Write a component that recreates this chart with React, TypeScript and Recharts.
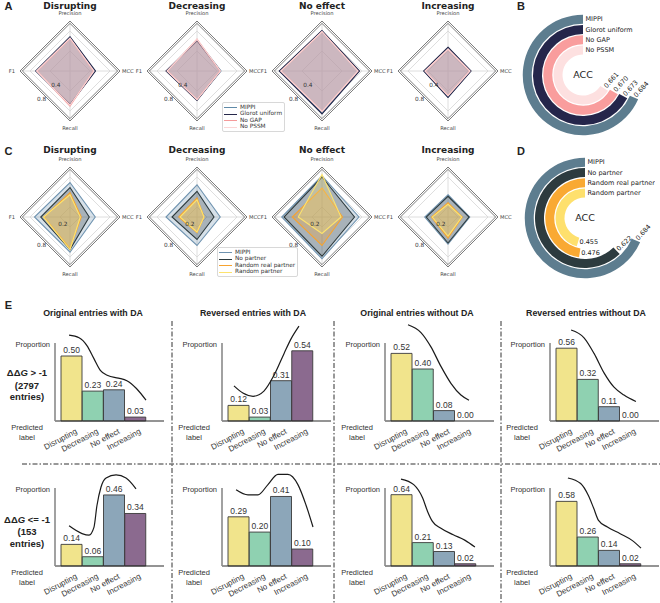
import React from "react";
import {
  RadarChart,
  Radar,
  PolarGrid,
  PolarAngleAxis,
  PolarRadiusAxis,
  RadialBarChart,
  RadialBar,
  LabelList,
  Cell,
  ComposedChart,
  Bar,
  XAxis,
  YAxis,
  LineChart,
  Line,
} from "recharts";

const ARIAL = "'Liberation Sans', Arial, sans-serif";
const DEJAVU = "'DejaVu Sans', sans-serif";

const classes = ["Disrupting", "Decreasing", "No effect", "Increasing"];
const radarAxes = ["Precision", "MCC", "Recall", "F1"];

// Panel A / B: ablation (rows: MIPPI, Glorot uniform, No GAP, No PSSM; cols follow radarAxes)
const ablationNames = ["MIPPI", "Glorot uniform", "No GAP", "No PSSM"];
const ablationDisrupting = [
  [0.68, 0.5, 0.67, 0.68],
  [0.685, 0.51, 0.67, 0.685],
  [0.65, 0.47, 0.7, 0.66],
  [0.66, 0.48, 0.685, 0.67],
];
const ablationDecreasing = [
  [0.62, 0.48, 0.58, 0.605],
  [0.605, 0.47, 0.59, 0.62],
  [0.64, 0.46, 0.57, 0.59],
  [0.635, 0.47, 0.575, 0.6],
];
const ablationNoEffect = [
  [0.8, 0.74, 0.85, 0.845],
  [0.81, 0.75, 0.86, 0.855],
  [0.785, 0.72, 0.805, 0.82],
  [0.79, 0.715, 0.81, 0.825],
];
const ablationIncreasing = [
  [0.47, 0.455, 0.525, 0.48],
  [0.475, 0.46, 0.53, 0.485],
  [0.435, 0.435, 0.49, 0.455],
  [0.44, 0.44, 0.495, 0.46],
];
const ablationAcc = [0.684, 0.673, 0.67, 0.661];

// Panel C / D: partner experiments (rows: MIPPI, No partner, Random real partner, Random partner)
const partnerNames = ["MIPPI", "No partner", "Random real partner", "Random partner"];
const partnerDisrupting = [
  [0.69, 0.505, 0.705, 0.71],
  [0.59, 0.385, 0.65, 0.585],
  [0.485, 0.225, 0.625, 0.52],
  [0.445, 0.205, 0.65, 0.53],
];
const partnerDecreasing = [
  [0.645, 0.465, 0.57, 0.62],
  [0.515, 0.34, 0.45, 0.5],
  [0.38, 0.14, 0.31, 0.365],
  [0.345, 0.14, 0.3, 0.34],
];
const partnerNoEffect = [
  [0.825, 0.74, 0.835, 0.805],
  [0.8, 0.65, 0.785, 0.76],
  [0.58, 0.41, 0.57, 0.595],
  [0.85, 0.38, 0.33, 0.475],
];
const partnerIncreasing = [
  [0.445, 0.435, 0.545, 0.465],
  [0.415, 0.42, 0.52, 0.435],
  [0.285, 0.285, 0.42, 0.33],
  [0.255, 0.275, 0.38, 0.315],
];
const partnerAcc = [0.684, 0.622, 0.476, 0.455];

// Panel E: predicted label proportions
const columnTitles = [
  "Original entries with DA",
  "Reversed entries with DA",
  "Original entries without DA",
  "Reversed entries without DA",
];
const origDaHigh = [0.5, 0.23, 0.24, 0.03];
const revDaHigh = [0.12, 0.03, 0.31, 0.54];
const origNoDaHigh = [0.52, 0.4, 0.08, 0.0];
const revNoDaHigh = [0.56, 0.32, 0.11, 0.0];
const origDaLow = [0.14, 0.06, 0.46, 0.34];
const revDaLow = [0.29, 0.2, 0.41, 0.1];
const origNoDaLow = [0.64, 0.21, 0.13, 0.02];
const revNoDaLow = [0.58, 0.26, 0.14, 0.02];

// trend curves: [position across the 4 bars (0..4), proportion]
const origDaHighCurve = [[0.38, 0.66], [0.85, 0.64], [1.22, 0.58], [1.55, 0.48], [1.85, 0.39], [2.2, 0.35], [2.7, 0.33], [3.1, 0.31], [3.55, 0.25], [4.0, 0.16]];
const revDaHighCurve = [[0.28, 0.27], [0.7, 0.215], [1.18, 0.19], [1.69, 0.23], [2.16, 0.35], [2.64, 0.52], [2.96, 0.63], [3.34, 0.73]];
const origNoDaHighCurve = [[0.8, 0.74], [1.41, 0.68], [1.88, 0.57], [2.35, 0.42], [2.82, 0.29], [3.29, 0.2], [3.67, 0.16]];
const revNoDaHighCurve = [[0.71, 0.7], [1.32, 0.64], [1.79, 0.52], [2.26, 0.37], [2.73, 0.26], [3.2, 0.2], [3.76, 0.15]];
const origDaLowCurve = [[0.38, 0.26], [0.99, 0.21], [1.32, 0.2], [1.55, 0.25], [1.69, 0.39], [1.88, 0.51], [2.12, 0.57], [2.59, 0.59], [3.06, 0.57], [3.53, 0.5]];
const revDaLowCurve = [[0.38, 0.45], [0.94, 0.42], [1.41, 0.42], [1.88, 0.48], [2.35, 0.54], [2.82, 0.54], [3.29, 0.48], [3.67, 0.36], [4.0, 0.23]];
const origNoDaLowCurve = [[0.47, 0.78], [1.07, 0.73], [1.49, 0.61], [1.72, 0.49], [1.95, 0.4], [2.33, 0.34], [2.93, 0.28], [3.49, 0.23], [3.95, 0.17]];
const revNoDaLowCurve = [[0.56, 0.79], [1.16, 0.74], [1.53, 0.63], [1.77, 0.52], [2.0, 0.41], [2.42, 0.35], [3.02, 0.29], [3.58, 0.23], [4.0, 0.16]];

const ablationColors = ["#5f8aa8", "#26284a", "#f59a9a", "#fcd6d6"];
const ablationRingColors = ["#5d7d8f", "#25264b", "#f99d9d", "#fde0e0"];
const partnerColors = ["#6f93b0", "#2d3a3d", "#f7a32f", "#fde36e"];
const partnerRingColors = ["#5d7d8f", "#2d3b3f", "#f9a933", "#fee06d"];
const barColors = ["#f1e48c", "#8fd1b1", "#8ca6b9", "#8b6a8f"];

const RADAR_BOX = 140;
const RADAR_R = 50;
const radarX = [70, 197, 322, 448];

function Txt({ x, y, size, children, anchor = "middle", weight = 400, family = ARIAL, color = "#222" }: any) {
  const tx = anchor === "middle" ? "-50%" : anchor === "end" ? "-100%" : "0";
  return (
    <div
      style={{
        position: "absolute",
        left: x,
        top: y,
        transform: `translate(${tx}, -50%)`,
        fontSize: size,
        fontWeight: weight,
        fontFamily: family,
        color,
        whiteSpace: "nowrap",
        lineHeight: 1,
        textAlign: "center",
      }}
    >
      {children}
    </div>
  );
}

function RadarPanel({ cx, cy, rows, colors, domain, ticks, fillOpacity }: any) {
  const data = radarAxes.map((axis, i) => {
    const row: Record<string, string | number> = { axis };
    rows.forEach((r: number[], s: number) => {
      row[`s${s}`] = r[i];
    });
    return row;
  });
  const c = RADAR_BOX / 2;
  const renderAngleTick = (p: any) => {
    const dx = p.x - c;
    const dy = p.y - c;
    let x = c;
    let y = c;
    let anchor = "middle";
    if (Math.abs(dy) >= Math.abs(dx)) y = dy < 0 ? c - RADAR_R - 8 : c + RADAR_R + 7;
    else if (dx < 0) {
      x = c - RADAR_R - 5;
      anchor = "end";
    } else {
      x = c + RADAR_R + 2;
      anchor = "start";
    }
    return (
      <text x={x} y={y} textAnchor={anchor} dominantBaseline="central" fontSize={5.2} fill="#444" fontFamily={DEJAVU}>
        {p.payload.value}
      </text>
    );
  };
  const renderRadiusTick = (p: any) => (
    <text x={p.x} y={p.y} textAnchor="middle" dominantBaseline="central" fontSize={5.8} fill="#333" fontFamily={DEJAVU}>
      {p.payload.value}
    </text>
  );
  return (
    <div style={{ position: "absolute", left: cx - c, top: cy - c }}>
      <RadarChart width={RADAR_BOX} height={RADAR_BOX} data={data} outerRadius={RADAR_R} margin={{ top: 0, right: 0, bottom: 0, left: 0 }}>
        <PolarGrid gridType="polygon" stroke="#d6d6d6" strokeWidth={0.8} />
        <PolarGrid gridType="polygon" radialLines={false} polarRadius={[RADAR_R, RADAR_R - 2.4]} stroke="#5a5a5a" strokeWidth={0.8} />
        <PolarAngleAxis dataKey="axis" tick={renderAngleTick} tickLine={false} axisLine={false} />
        <PolarRadiusAxis angle={-135} domain={domain} ticks={ticks} tick={renderRadiusTick} axisLine={false} tickLine={false} />
        {rows.map((_: number[], s: number) => (
          <Radar
            key={s}
            dataKey={`s${s}`}
            stroke={colors[s]}
            strokeWidth={1.1}
            fill={colors[s]}
            fillOpacity={fillOpacity}
            isAnimationActive={false}
          />
        ))}
      </RadarChart>
    </div>
  );
}

function LegendBox({ left, top, width, height, names, colors }: any) {
  return (
    <div
      style={{
        position: "absolute",
        left,
        top,
        width,
        height,
        border: "0.8px solid #d8d8d8",
        borderRadius: 2,
        background: "#fff",
        boxSizing: "border-box",
      }}
    >
      {names.map((n: string, i: number) => (
        <div key={n} style={{ position: "absolute", left: 1, top: 1.5 + i * 6.6, height: 6, display: "flex", alignItems: "center" }}>
          <span style={{ width: 13, height: 0, borderTop: `1.2px solid ${colors[i]}`, marginRight: 3 }} />
          <span style={{ fontSize: 5.8, fontFamily: DEJAVU, color: "#333", lineHeight: 1, whiteSpace: "nowrap" }}>{n}</span>
        </div>
      ))}
    </div>
  );
}

function RingPanel({ cx, cy, names, values, colors }: any) {
  const data = names.map((name: string, i: number) => ({ name, value: values[i] })).reverse();
  const fills = [...colors].reverse();
  const size = 140;
  const renderValue = (p: any) => {
    const vb = p.viewBox || p;
    const r = (vb.innerRadius + vb.outerRadius) / 2;
    const rad = (-vb.endAngle * Math.PI) / 180;
    const x = vb.cx + r * Math.cos(rad);
    const y = vb.cy + r * Math.sin(rad);
    // text follows the arc end, kept between flat and a 48 degree tilt
    const tangent = (vb.endAngle + 90) % 360;
    const tilt = Math.max(0, Math.min(tangent > 180 ? tangent - 360 : tangent, 48));
    return (
      <text x={x} y={y} dx={1.5} transform={`rotate(${-tilt} ${x} ${y})`} fontSize={6.5} fontFamily={DEJAVU} dominantBaseline="central" fill="#222">
        {Number(p.value).toFixed(3)}
      </text>
    );
  };
  const renderName = (p: any) => {
    const vb = p.viewBox || p;
    const r = (vb.innerRadius + vb.outerRadius) / 2;
    return (
      <text x={vb.cx + 2.5} y={vb.cy - r} fontSize={6.5} fontFamily={DEJAVU} dominantBaseline="central" fill="#222">
        {p.value}
      </text>
    );
  };
  return (
    <div style={{ position: "absolute", left: cx - size / 2, top: cy - size / 2 }}>
      <RadialBarChart
        width={size}
        height={size}
        data={data}
        innerRadius={19.5}
        outerRadius={60.5}
        startAngle={90}
        endAngle={450}
        barSize={9}
        margin={{ top: 0, right: 0, bottom: 0, left: 0 }}
      >
        <PolarAngleAxis type="number" domain={[0, 1]} tick={false} axisLine={false} />
        <PolarRadiusAxis type="category" dataKey="name" tick={false} axisLine={false} />
        <RadialBar dataKey="value" isAnimationActive={false}>
          {data.map((d: any, i: number) => (
            <Cell key={d.name} fill={fills[i]} />
          ))}
          <LabelList dataKey="value" content={renderValue} />
          <LabelList dataKey="name" content={renderName} />
        </RadialBar>
      </RadialBarChart>
    </div>
  );
}

const AXIS_H = 78;
const CURVE_H = 100;
const PAD_L = 6;
const PAD_R = 18;
const BAR_W = 85;

const BarTick = (p: any) => {
  const x = p.x + 6;
  const y = p.y + 4;
  return (
    <text x={x} y={y} transform={`rotate(-28 ${x} ${y})`} textAnchor="end" fontSize={8} fontFamily={ARIAL} fill="#333">
      {p.payload.value}
    </text>
  );
};

function BarPanel({ axisX, baseline, values, curve, axisMax }: any) {
  const data = classes.map((name, i) => ({ name, value: values[i] }));
  const curveData = curve.map(([x, y]: number[]) => ({ x, y }));
  const W = 20 + PAD_L + BAR_W + PAD_R;
  return (
    <>
      <div style={{ position: "absolute", left: axisX - 20, top: baseline - AXIS_H - 20 }}>
        <ComposedChart width={W} height={AXIS_H + 20 + 45} data={data} margin={{ top: 20, right: 0, bottom: 0, left: 0 }} barCategoryGap={0}>
          <XAxis
            dataKey="name"
            height={45}
            padding={{ left: PAD_L, right: PAD_R }}
            tickLine={false}
            axisLine={{ stroke: "#2b2b2b", strokeWidth: 1.2 }}
            tick={<BarTick />}
            interval={0}
          />
          <YAxis
            width={20}
            domain={[0, axisMax]}
            ticks={[0]}
            tick={false}
            tickSize={20}
            tickLine={{ stroke: "#2b2b2b", strokeWidth: 1.2 }}
            axisLine={{ stroke: "#8a8a8a", strokeWidth: 1.6 }}
          />
          <Bar dataKey="value" stroke="#3a3a3a" strokeWidth={0.9} isAnimationActive={false}>
            {data.map((d, i) => (
              <Cell key={d.name} fill={barColors[i]} />
            ))}
          </Bar>
          <Line dataKey="value" stroke="none" dot={false} activeDot={false} isAnimationActive={false}>
            <LabelList
              dataKey="value"
              position="top"
              offset={3}
              formatter={(v: any) => Number(v).toFixed(2)}
              fontSize={8.5}
              fontFamily={ARIAL}
              fill="#333"
            />
          </Line>
        </ComposedChart>
      </div>
      <div style={{ position: "absolute", left: axisX - 20, top: baseline - CURVE_H }}>
        <LineChart width={W} height={CURVE_H} data={curveData} margin={{ top: 0, right: PAD_R, bottom: 0, left: 20 + PAD_L }}>
          <XAxis type="number" dataKey="x" domain={[0, 4]} hide />
          <YAxis type="number" domain={[0, (axisMax * CURVE_H) / AXIS_H]} hide />
          <Line dataKey="y" type="monotone" stroke="#1a1a1a" strokeWidth={1.2} dot={false} isAnimationActive={false} />
        </LineChart>
      </div>
      <Txt x={axisX - 5} y={baseline - AXIS_H + 2} size={7.5} anchor="end" color="#333">
        Proportion
      </Txt>
      <Txt x={axisX - 28} y={baseline + 7} size={7.5} color="#333">
        Predicted
      </Txt>
      <Txt x={axisX - 28} y={baseline + 17} size={7.5} color="#333">
        label
      </Txt>
    </>
  );
}

const colAxisX = [55, 222, 385, 550];
const colTitleX = [93, 253, 417, 586];
const rowBaseline = [421, 566];
const highRow = [origDaHigh, revDaHigh, origNoDaHigh, revNoDaHigh];
const highCurves = [origDaHighCurve, revDaHighCurve, origNoDaHighCurve, revNoDaHighCurve];
const lowRow = [origDaLow, revDaLow, origNoDaLow, revNoDaLow];
const lowCurves = [origDaLowCurve, revDaLowCurve, origNoDaLowCurve, revNoDaLowCurve];
const highAxisMax = [0.6, 0.6, 0.6, 0.6];
const lowAxisMax = [0.505, 0.46, 0.7, 0.7];

export default function App() {
  const ablation = [ablationDisrupting, ablationDecreasing, ablationNoEffect, ablationIncreasing];
  const partner = [partnerDisrupting, partnerDecreasing, partnerNoEffect, partnerIncreasing];
  return (
    <div style={{ position: "absolute", left: 0, top: 0, width: 660, height: 603, background: "#fff", overflow: "hidden" }}>
      <svg width={660} height={603} style={{ position: "absolute", left: 0, top: 0 }}>
        <line x1={22} y1={464} x2={660} y2={464} stroke="#333" strokeWidth={1} strokeDasharray="5 2 1.5 2" />
        {[172, 334, 501].map((x) => (
          <line key={x} x1={x} y1={321} x2={x} y2={603} stroke="#333" strokeWidth={1} strokeDasharray="5 2 1.5 2" />
        ))}
      </svg>

      {/* A */}
      {ablation.map((rows, i) => (
        <RadarPanel key={`a${i}`} cx={radarX[i]} cy={71} rows={rows} colors={ablationColors} domain={[0.32, 0.89]} ticks={[0.4, 0.8]} fillOpacity={0.25} />
      ))}
      {classes.map((c, i) => (
        <Txt key={`at${i}`} x={radarX[i]} y={5.5} size={9} weight={700} family={DEJAVU}>
          {c}
        </Txt>
      ))}
      <LegendBox left={222} top={102} width={63} height={30} names={ablationNames} colors={ablationColors} />

      {/* B */}
      <RingPanel cx={583} cy={75} names={ablationNames} values={ablationAcc} colors={ablationRingColors} />
      <Txt x={583} y={75} size={9.5} family={DEJAVU}>
        ACC
      </Txt>

      {/* C */}
      {partner.map((rows, i) => (
        <RadarPanel key={`c${i}`} cx={radarX[i]} cy={217} rows={rows} colors={partnerColors} domain={[0.09, 0.9]} ticks={[0.2, 0.8]} fillOpacity={0.28} />
      ))}
      {classes.map((c, i) => (
        <Txt key={`ct${i}`} x={radarX[i]} y={150} size={9} weight={700} family={DEJAVU}>
          {c}
        </Txt>
      ))}
      <LegendBox left={217} top={247} width={81} height={30} names={partnerNames} colors={partnerColors} />

      {/* D */}
      <RingPanel cx={585} cy={218} names={partnerNames} values={partnerAcc} colors={partnerRingColors} />
      <Txt x={585} y={218} size={9.5} family={DEJAVU}>
        ACC
      </Txt>

      {/* E */}
      {columnTitles.map((t, i) => (
        <Txt key={`et${i}`} x={colTitleX[i]} y={313} size={8.8} weight={700}>
          {t}
        </Txt>
      ))}
      {highRow.map((v, i) => (
        <BarPanel key={`h${i}`} axisX={colAxisX[i]} baseline={rowBaseline[0]} values={v} curve={highCurves[i]} axisMax={highAxisMax[i]} />
      ))}
      {lowRow.map((v, i) => (
        <BarPanel key={`l${i}`} axisX={colAxisX[i]} baseline={rowBaseline[1]} values={v} curve={lowCurves[i]} axisMax={lowAxisMax[i]} />
      ))}
      <Txt x={27} y={373} size={9.5} weight={700}>
        ΔΔ<i>G</i> &gt; -1
      </Txt>
      <Txt x={27} y={385.5} size={9.5} weight={700}>
        (2797
      </Txt>
      <Txt x={27} y={397} size={9.5} weight={700}>
        entries)
      </Txt>
      <Txt x={27} y={520} size={9.5} weight={700}>
        ΔΔ<i>G</i> &lt;= -1
      </Txt>
      <Txt x={27} y={532} size={9.5} weight={700}>
        (153
      </Txt>
      <Txt x={27} y={543.5} size={9.5} weight={700}>
        entries)
      </Txt>

      {/* panel letters */}
      <Txt x={8.5} y={6} size={11} weight={700}>A</Txt>
      <Txt x={521} y={6} size={11} weight={700}>B</Txt>
      <Txt x={8.5} y={151} size={11} weight={700}>C</Txt>
      <Txt x={521} y={151} size={11} weight={700}>D</Txt>
      <Txt x={8.5} y={305} size={11} weight={700}>E</Txt>
    </div>
  );
}
